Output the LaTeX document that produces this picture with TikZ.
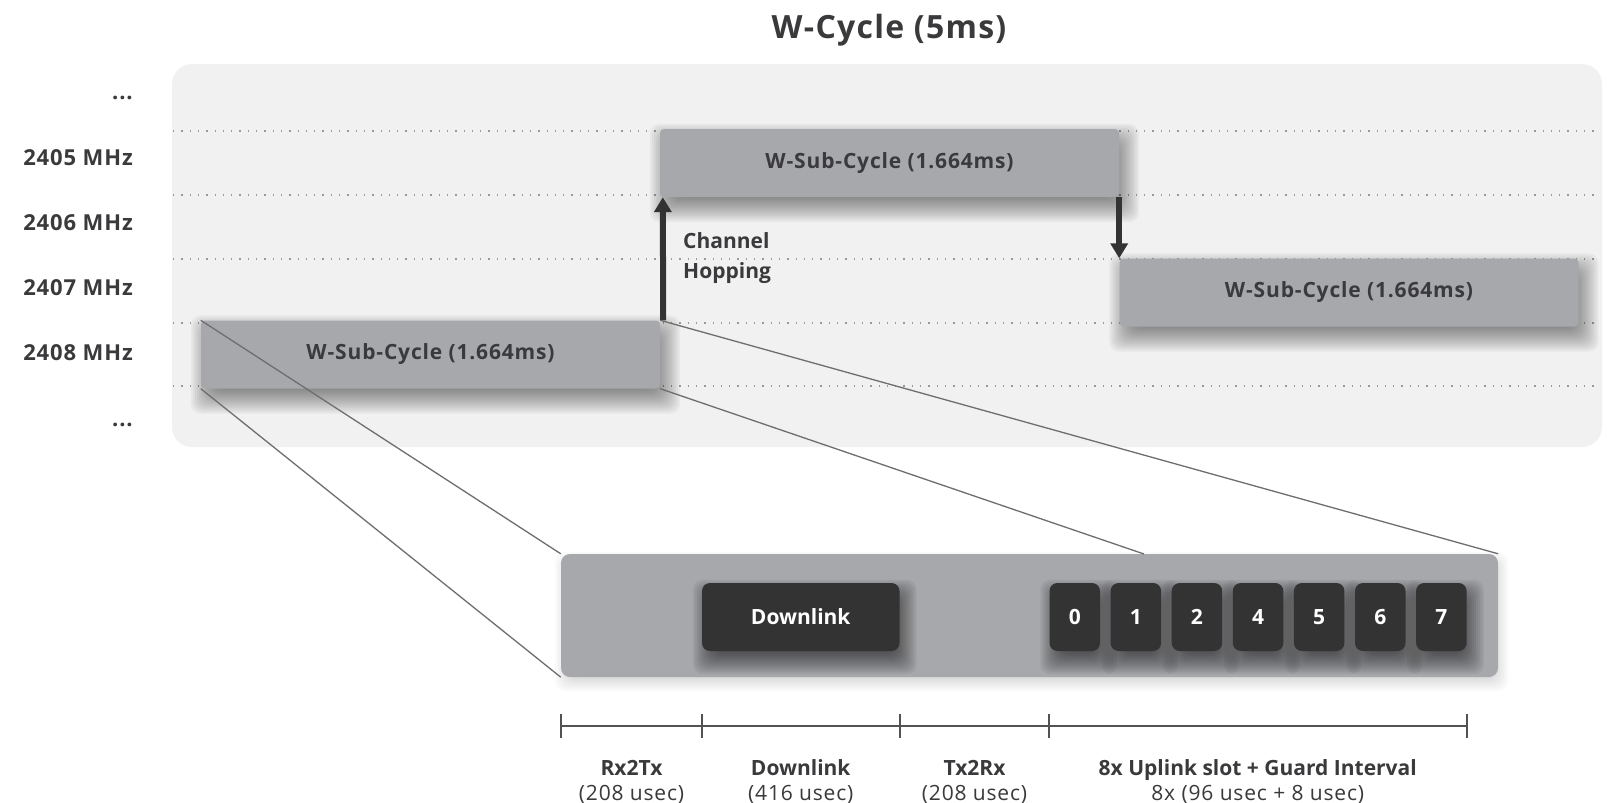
\documentclass[tikz,border=0pt]{standalone}
\usepackage{fontspec}
\setmainfont{Open Sans}
\newfontfamily\widefont{Open Sans}[LetterSpace=4]
\usetikzlibrary{
	arrows.meta,
	positioning,
	backgrounds,
}
\definecolor{MyPanel}{HTML}{F0F1F0}
\definecolor{MyGrey}{HTML}{A7A8AC}
\definecolor{MyDark}{HTML}{333333}
\definecolor{MyText}{HTML}{3A3A3C}
\definecolor{MyLine}{HTML}{6E6E6E}

\begin{document}
\begin{tikzpicture}	[
				x=1pt,y=-1pt,
				every node/.style={align=center,inner sep=0pt,text=MyText,font=\bfseries\fontsize{21}{30}\selectfont},
				subcycle/.style={fill=MyGrey,rectangle,rounded corners=4pt,minimum width=459pt,minimum height=68pt,
					font=\widefont\bfseries\fontsize{21}{30}\selectfont},
				slot/.style={fill=MyDark,text=white,rectangle,rounded corners=8pt,minimum width=50.5pt,minimum height=68pt},
				freq/.style={anchor=east,font=\widefont\bfseries\fontsize{22}{26}\selectfont},
				hop/.style={-{Triangle[length=15pt,width=17pt]},line width=6pt,draw=MyDark},
				zoomline/.style={draw=MyLine,line width=1.3pt},
				grid/.style={draw=black!40,line width=1.3pt,dash pattern=on 1.3pt off 7pt},
				dim/.style={draw=MyDark!85,line width=1.8pt},
				dimname/.style={anchor=base},
				dimvalue/.style={anchor=base,font=\widefont\fontsize{21}{30}\selectfont},
				shade/.style={fill=black,fill opacity=#1,rounded corners=10pt},
			]
			\useasboundingbox (0,0) rectangle (1607,803);

			\node (title) [font=\widefont\bfseries\fontsize{32}{36}\selectfont] at (889,30) {W-Cycle (5ms)};

			\node (fup) [freq,anchor=base east] at (133,99) {...};
			\node (f2405) [freq] at (133,158) {2405 MHz};
			\node (f2406) [freq] at (133,223) {2406 MHz};
			\node (f2407) [freq] at (133,288) {2407 MHz};
			\node (f2408) [freq] at (133,353) {2408 MHz};
			\node (fdown) [freq,anchor=base east] at (133,426) {...};

			\node (sub1) [subcycle] at (430.5,354.5) {W-Sub-Cycle (1.664ms)};
			\node (sub2) [subcycle] at (889.5,163) {W-Sub-Cycle (1.664ms)};
			\node (sub3) [subcycle] at (1349,292.5) {W-Sub-Cycle (1.664ms)};

			\draw[hop] ([xshift=3pt]sub1.north east) -- ([xshift=3pt]sub2.south west);
			\draw[hop] (sub2.south east) -- (sub2.south east |- sub3.north);
			\node (hoplabel) [anchor=west,align=left] at (683,258) {Channel\\Hopping};

			\node (down) [slot,minimum width=197.5pt] at (800.75,617) {Downlink};
			\foreach \n [count=\i from 0] in {0,1,2,4,5,6,7}
				\node (slot\i) [slot] at (1074.75+61.1*\i,617) {\n};

			\coordinate (zoomnw) at (561,554);
			\coordinate (zoomse) at (1498,677);

			\begin{scope}[on background layer]
				\fill[white] (0,0) rectangle (1607,803);
				\node (panel) [fill=MyPanel,rectangle,rounded corners=20pt,minimum width=1430pt,minimum height=383pt] at (887,255.5) {};
				\foreach \y in {131,195,259,323,386}
					\draw[grid] (173,\y) -- (1600,\y);
				\foreach \s in {sub1,sub2,sub3}
					\foreach \r in {-15,-13,...,15}
						\fill[shade=0.038] ([shift={({5-(\r)},{10-(\r)})}]\s.north west) rectangle ([shift={({5+\r},{10+\r})}]\s.south east);
				\foreach \r in {-8,-6,...,8}
					\fill[shade=0.02] ([shift={({2-(\r)},{6-(\r)})}]zoomnw) rectangle ([shift={({2+\r},{6+\r})}]zoomse);
				\node (zoom) [fill=MyGrey,rectangle,rounded corners=9pt,minimum width=937pt,minimum height=123pt] at (1029.5,615.5) {};
				\foreach \s in {down,slot0,slot1,slot2,slot3,slot4,slot5,slot6}
					\foreach \r in {-13,-11,...,13}
						\fill[shade=0.055] ([shift={({4-(\r)},{10-(\r)})}]\s.north west) rectangle ([shift={({4+\r},{10+\r})}]\s.south east);
			\end{scope}

			\coordinate (cut) at (1144,554);
			\draw[zoomline] (sub1.north west) -- (zoom.north west);
			\draw[zoomline] (sub1.south west) -- (zoom.south west);
			\draw[zoomline] (sub1.north east) -- (zoom.north east);
			\draw[zoomline] (sub1.south east) -- (cut);

			\coordinate (dimy) at (0,726);
			\coordinate (d0) at (zoom.south west |- dimy);
			\coordinate (d1) at (down.west |- dimy);
			\coordinate (d2) at (down.east |- dimy);
			\coordinate (d3) at (slot0.west |- dimy);
			\coordinate (d4) at (slot6.east |- dimy);
			\draw[dim] (d0) -- (d4);
			\foreach \d in {d0,d1,d2,d3,d4}
				\draw[dim] (\d) ++(0,-12) -- ++(0,24);

			\node (rxname) [dimname] at (631.5,775) {Rx2Tx};
			\node (rxtime) [dimvalue] at (631.5,800) {(208 usec)};
			\node (dlname) [dimname] at (800.75,775) {Downlink};
			\node (dltime) [dimvalue] at (800.75,800) {(416 usec)};
			\node (txname) [dimname] at (974.5,775) {Tx2Rx};
			\node (txtime) [dimvalue] at (974.5,800) {(208 usec)};
			\node (ulname) [dimname] at (1257.75,775) {8x Uplink slot + Guard Interval};
			\node (ultime) [dimvalue] at (1257.75,800) {8x (96 usec + 8 usec)};
		\end{tikzpicture}
\end{document}
